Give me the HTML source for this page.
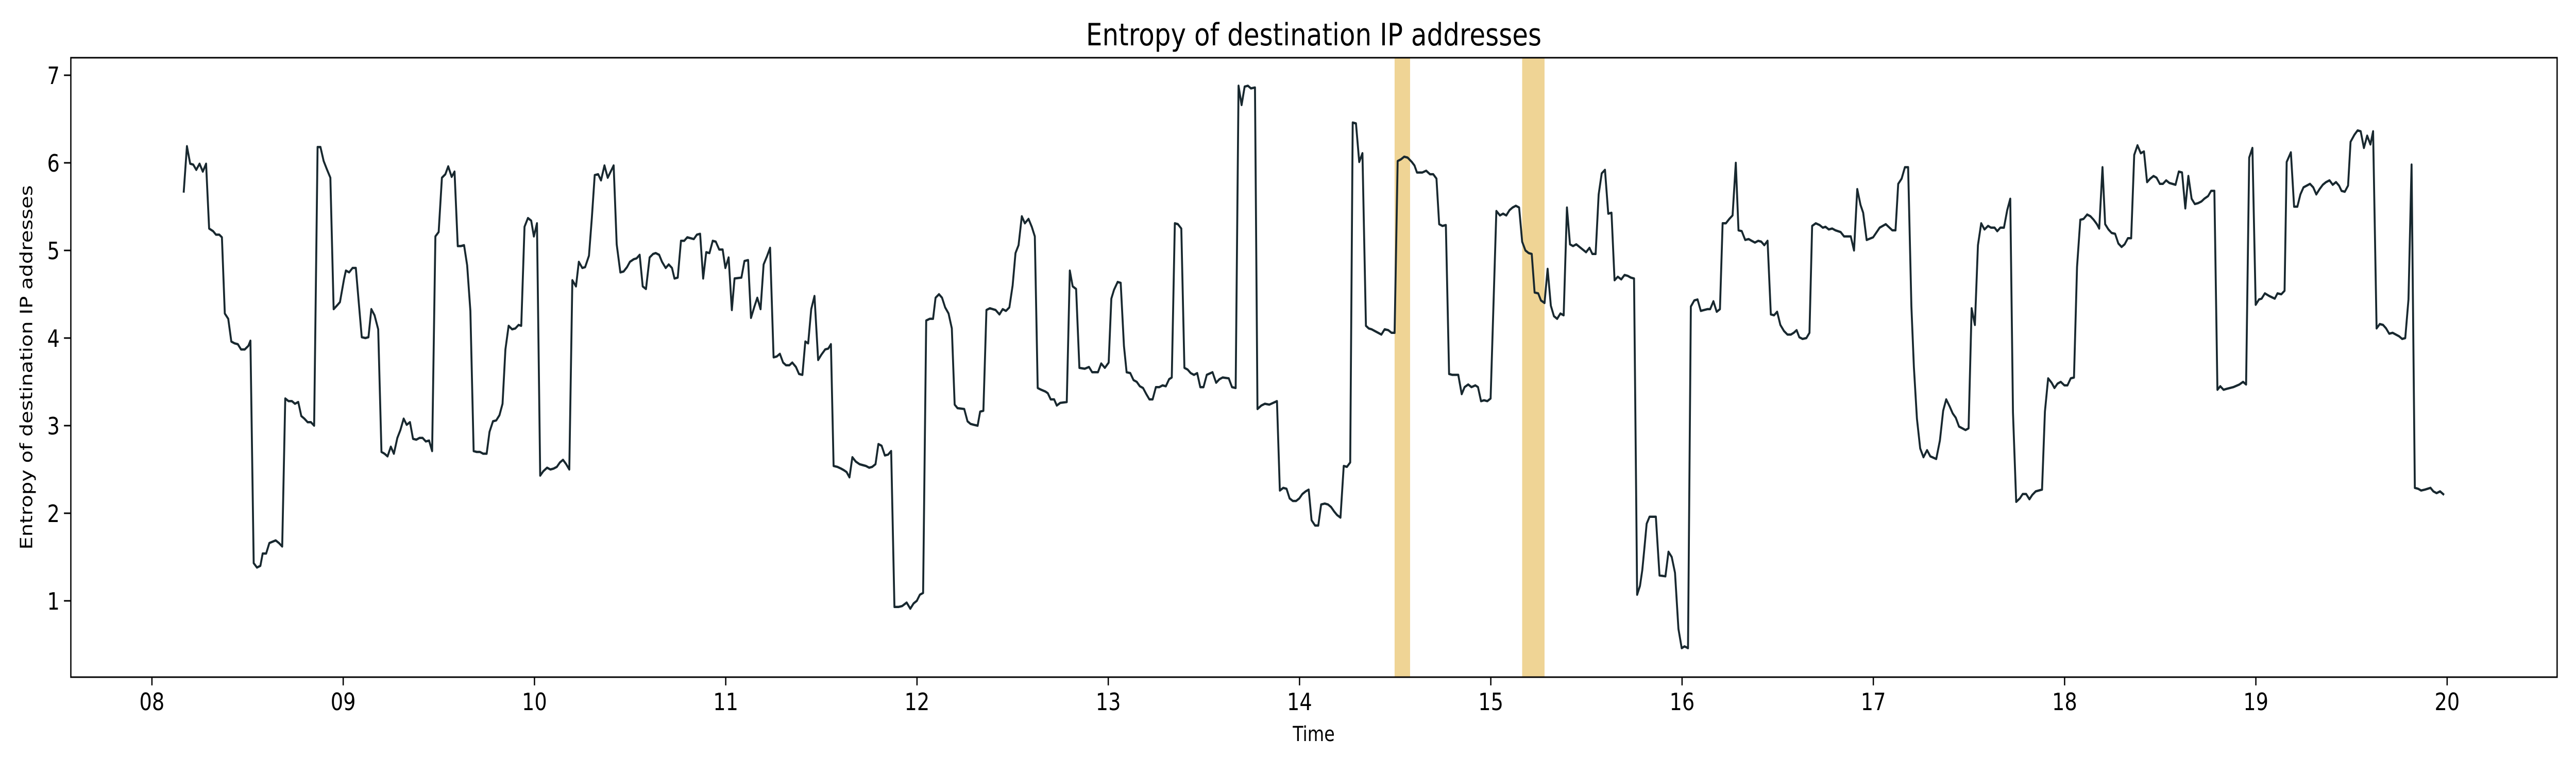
<!DOCTYPE html>
<html><head><meta charset="utf-8">
<style>
html,body{margin:0;padding:0;background:#fff;overflow:hidden;width:100%;height:100%;}
svg{display:block;width:100vw;height:100vh;font-family:"DejaVu Sans","Liberation Sans",sans-serif;}
</style></head>
<body>
<svg id="chart" viewBox="0 0 6000 1500" preserveAspectRatio="none" xmlns="http://www.w3.org/2000/svg">
<rect x="0" y="0" width="6000" height="1500" fill="#ffffff"/>
<g id="bands"></g>
<g id="series"></g>
<g id="axes"></g>
<text x="3060" y="88" font-size="60" text-anchor="middle" fill="#000">Entropy of destination IP addresses</text>
<text x="3060" y="1438" font-size="40" text-anchor="middle" fill="#000">Time</text>
<text transform="translate(75,713) rotate(-90)" font-size="40" text-anchor="middle" fill="#000">Entropy of destination IP addresses</text>
</svg>
<script>
const hours = [8.166,8.183,8.200,8.216,8.232,8.249,8.266,8.283,8.299,8.320,8.335,8.352,8.366,8.381,8.399,8.415,8.432,8.449,8.466,8.485,8.504,8.515,8.532,8.549,8.567,8.579,8.597,8.614,8.647,8.664,8.681,8.697,8.714,8.732,8.748,8.765,8.781,8.797,8.814,8.831,8.848,8.866,8.881,8.898,8.914,8.933,8.950,8.967,8.983,9.004,9.014,9.031,9.049,9.066,9.082,9.097,9.116,9.132,9.147,9.164,9.183,9.200,9.216,9.232,9.249,9.265,9.283,9.299,9.316,9.332,9.349,9.365,9.382,9.399,9.415,9.432,9.449,9.465,9.482,9.499,9.516,9.534,9.549,9.567,9.582,9.599,9.615,9.632,9.648,9.665,9.682,9.698,9.715,9.732,9.750,9.765,9.783,9.800,9.817,9.833,9.848,9.865,9.883,9.900,9.917,9.931,9.948,9.966,9.983,9.997,10.013,10.030,10.046,10.066,10.083,10.100,10.117,10.133,10.149,10.166,10.182,
10.198,10.217,10.232,10.250,10.265,10.285,10.300,10.315,10.333,10.348,10.366,10.383,10.414,10.430,10.449,10.466,10.484,10.499,10.519,10.534,10.550,10.566,10.583,10.602,10.620,10.634,10.652,10.667,10.686,10.702,10.719,10.732,10.749,10.766,10.783,10.799,10.833,10.849,10.866,10.882,10.898,10.915,10.932,10.948,10.966,10.984,10.998,11.015,11.032,11.046,11.082,11.098,11.117,11.132,11.150,11.165,11.182,11.198,11.215,11.232,11.250,11.267,11.283,11.300,11.315,11.333,11.348,11.367,11.383,11.401,11.416,11.431,11.447,11.464,11.483,11.500,11.520,11.536,11.550,11.564,11.583,11.603,11.619,11.632,11.647,11.662,11.680,11.700,11.716,11.733,11.750,11.766,11.783,11.798,11.815,11.832,11.849,11.865,11.882,11.903,11.922,11.946,11.965,11.982,11.999,12.015,12.032,12.048,12.067,12.084,12.097,12.115,12.131,12.147,12.165,12.182,12.197,12.212,12.247,12.264,12.280,12.297,12.317,12.330,12.347,12.363,12.381,
12.411,12.431,12.448,12.465,12.483,12.500,12.515,12.531,12.548,12.564,12.583,12.600,12.616,12.631,12.649,12.671,12.684,12.699,12.717,12.731,12.749,12.783,12.799,12.814,12.832,12.849,12.877,12.899,12.916,12.946,12.963,12.982,13.002,13.016,13.030,13.049,13.065,13.082,13.096,13.115,13.132,13.149,13.165,13.182,13.199,13.215,13.232,13.249,13.267,13.284,13.301,13.318,13.332,13.348,13.364,13.382,13.398,13.415,13.431,13.448,13.465,13.481,13.498,13.515,13.545,13.564,13.581,13.598,13.630,13.647,13.666,13.681,13.697,13.713,13.730,13.746,13.767,13.780,13.800,13.819,13.842,13.862,13.882,13.897,13.915,13.932,13.948,13.965,13.982,13.999,14.015,14.032,14.048,14.063,14.081,14.098,14.113,14.132,14.149,14.165,14.181,14.196,14.214,14.231,14.248,14.265,14.278,14.295,14.312,14.329,14.347,14.362,14.377,14.394,14.411,14.428,14.445,14.464,14.481,14.497,14.513,14.530,14.547,14.565,14.587,14.601,14.614,
14.642,14.662,14.682,14.699,14.716,14.730,14.747,14.765,14.782,14.799,14.830,14.848,14.863,14.882,14.899,14.919,14.933,14.949,14.965,14.982,14.999,15.029,15.048,15.064,15.081,15.098,15.114,15.131,15.148,15.164,15.181,15.198,15.214,15.229,15.248,15.262,15.281,15.297,15.314,15.330,15.347,15.364,15.381,15.398,15.414,15.430,15.447,15.464,15.481,15.498,15.516,15.531,15.548,15.564,15.580,15.597,15.614,15.631,15.647,15.664,15.682,15.699,15.716,15.732,15.749,15.765,15.780,15.792,15.803,15.815,15.830,15.863,15.882,15.913,15.929,15.946,15.963,15.981,15.998,16.013,16.031,16.046,16.064,16.081,16.098,16.115,16.132,16.147,16.164,16.181,16.198,16.212,16.229,16.247,16.264,16.281,16.295,16.312,16.330,16.348,16.364,16.381,16.398,16.414,16.430,16.447,16.464,16.481,16.497,16.514,16.533,16.551,16.569,16.584,16.599,16.613,16.630,16.650,16.666,16.680,16.699,16.719,16.736,16.750,16.767,16.785,16.802,
16.829,16.847,16.882,16.899,16.916,16.933,16.947,16.965,16.999,17.033,17.065,17.099,17.116,17.130,17.148,17.165,17.182,17.199,17.212,17.228,17.245,17.262,17.281,17.298,17.329,17.348,17.365,17.381,17.399,17.415,17.431,17.448,17.465,17.482,17.498,17.514,17.531,17.547,17.564,17.581,17.600,17.615,17.634,17.648,17.664,17.683,17.700,17.716,17.730,17.747,17.766,17.781,17.799,17.816,17.831,17.849,17.882,17.897,17.914,17.932,17.947,17.963,17.980,17.999,18.015,18.032,18.049,18.065,18.082,18.099,18.118,18.135,18.152,18.169,18.181,18.198,18.212,18.229,18.246,18.264,18.281,18.298,18.314,18.331,18.348,18.364,18.381,18.398,18.415,18.431,18.448,18.465,18.481,18.498,18.514,18.531,18.548,18.580,18.597,18.614,18.631,18.647,18.664,18.681,18.698,18.716,18.730,18.750,18.766,18.783,18.799,18.814,18.831,18.847,18.882,18.914,18.933,18.949,18.965,18.982,18.999,19.016,19.030,
19.047,19.070,19.099,19.113,19.133,19.150,19.161,19.183,19.200,19.217,19.233,19.249,19.283,19.300,19.316,19.333,19.350,19.367,19.385,19.402,19.419,19.435,19.448,19.465,19.482,19.495,19.515,19.532,19.548,19.565,19.582,19.599,19.613,19.631,19.648,19.665,19.681,19.697,19.715,19.732,19.749,19.765,19.781,19.798,19.814,19.831,19.848,19.864,19.884,19.913,19.928,19.945,19.963,19.984];
const entropy = [5.66,6.19,5.99,5.98,5.92,5.99,5.90,5.99,5.25,5.22,5.18,5.18,5.15,4.28,4.22,3.96,3.94,3.93,3.87,3.87,3.91,3.97,1.43,1.38,1.40,1.54,1.54,1.66,1.69,1.66,1.62,3.31,3.28,3.28,3.25,3.27,3.11,3.08,3.04,3.04,3.00,6.18,6.18,6.02,5.93,5.83,4.33,4.37,4.41,4.67,4.77,4.75,4.80,4.80,4.39,4.01,4.00,4.01,4.33,4.26,4.10,2.70,2.68,2.65,2.76,2.68,2.86,2.95,3.08,3.01,3.04,2.85,2.84,2.86,2.86,2.82,2.83,2.71,5.16,5.21,5.83,5.87,5.96,5.84,5.90,5.05,5.05,5.06,4.83,4.31,2.71,2.70,2.70,2.68,2.68,2.93,3.05,3.06,3.12,3.25,3.87,4.14,4.10,4.11,4.15,4.14,5.27,5.37,5.34,5.16,5.31,2.43,2.48,2.52,2.50,2.51,2.53,2.58,2.61,2.56,2.50,
4.66,4.59,4.87,4.80,4.81,4.94,5.37,5.86,5.87,5.80,5.97,5.83,5.97,5.07,4.75,4.76,4.81,4.87,4.90,4.91,4.95,4.59,4.56,4.92,4.96,4.97,4.95,4.87,4.80,4.84,4.80,4.68,4.69,5.11,5.11,5.15,5.13,5.18,5.19,4.68,4.98,4.97,5.11,5.10,5.01,5.01,4.80,4.92,4.32,4.68,4.69,4.88,4.89,4.23,4.36,4.46,4.33,4.84,4.93,5.03,3.78,3.79,3.82,3.72,3.69,3.69,3.72,3.67,3.59,3.58,3.96,3.94,4.33,4.48,3.75,3.81,3.87,3.88,3.93,2.54,2.53,2.51,2.49,2.47,2.41,2.64,2.59,2.56,2.55,2.54,2.52,2.53,2.56,2.79,2.77,2.66,2.67,2.71,0.93,0.93,0.94,0.98,0.91,0.97,1.00,1.07,1.09,4.20,4.22,4.22,4.46,4.50,4.46,4.35,4.28,4.11,3.24,3.20,3.19,3.05,3.02,3.01,3.00,3.16,3.17,4.32,4.34,
4.32,4.27,4.33,4.31,4.35,4.60,4.97,5.06,5.39,5.31,5.36,5.27,5.16,3.43,3.41,3.39,3.37,3.30,3.30,3.23,3.26,3.27,4.77,4.59,4.56,3.66,3.65,3.67,3.61,3.61,3.71,3.66,3.72,4.45,4.55,4.64,4.63,3.91,3.61,3.60,3.52,3.50,3.45,3.43,3.36,3.30,3.30,3.44,3.44,3.46,3.45,3.53,3.55,5.31,5.30,5.25,3.66,3.64,3.60,3.58,3.60,3.44,3.44,3.58,3.61,3.49,3.53,3.55,3.54,3.44,3.43,6.88,6.66,6.87,6.88,6.85,6.86,3.19,3.23,3.25,3.24,3.26,3.28,2.26,2.29,2.28,2.17,2.14,2.14,2.17,2.22,2.25,2.27,1.92,1.86,1.86,2.10,2.11,2.10,2.07,2.02,1.98,1.95,2.54,2.53,2.58,6.46,6.45,6.01,6.11,4.14,4.11,4.10,4.08,4.06,4.04,4.10,4.09,4.06,4.06,6.02,6.04,6.07,6.06,6.01,5.97,5.89,
5.89,5.91,5.87,5.87,5.82,5.30,5.28,5.29,3.59,3.58,3.58,3.36,3.44,3.47,3.44,3.46,3.44,3.28,3.29,3.28,3.31,5.45,5.40,5.42,5.40,5.46,5.49,5.51,5.49,5.10,5.00,4.97,4.96,4.52,4.51,4.43,4.40,4.79,4.37,4.25,4.22,4.28,4.26,5.49,5.07,5.05,5.07,5.04,5.01,4.98,5.03,4.96,4.96,5.64,5.88,5.92,5.42,5.43,4.66,4.70,4.67,4.72,4.71,4.69,4.68,1.07,1.17,1.35,1.60,1.88,1.96,1.96,1.29,1.28,1.56,1.50,1.32,0.68,0.46,0.48,0.46,4.36,4.43,4.44,4.31,4.32,4.33,4.33,4.42,4.30,4.33,5.31,5.31,5.36,5.40,6.00,5.23,5.22,5.12,5.13,5.11,5.09,5.11,5.10,5.06,5.11,4.27,4.26,4.30,4.15,4.08,4.04,4.04,4.06,4.09,4.01,3.99,4.00,4.06,5.28,5.31,5.29,5.26,5.27,5.24,5.25,5.23,
5.21,5.16,5.16,5.00,5.70,5.52,5.43,5.12,5.15,5.26,5.30,5.23,5.23,5.76,5.82,5.95,5.95,4.36,3.67,3.08,2.74,2.64,2.72,2.65,2.62,2.83,3.17,3.30,3.22,3.14,3.09,2.99,2.97,2.95,2.97,4.34,4.15,5.06,5.31,5.24,5.28,5.26,5.26,5.22,5.26,5.26,5.46,5.59,3.15,2.13,2.17,2.22,2.22,2.16,2.21,2.25,2.27,3.16,3.54,3.49,3.43,3.48,3.50,3.46,3.46,3.54,3.55,4.81,5.35,5.36,5.41,5.39,5.35,5.30,5.25,5.95,5.30,5.24,5.20,5.19,5.08,5.04,5.07,5.14,5.14,6.09,6.20,6.11,6.13,5.78,5.82,5.85,5.83,5.76,5.76,5.80,5.77,5.75,5.90,5.89,5.48,5.85,5.59,5.53,5.54,5.56,5.59,5.62,5.68,5.68,3.41,3.45,3.41,3.42,3.44,3.47,3.50,3.47,6.06,6.17,4.38,4.44,4.45,
4.51,4.48,4.45,4.51,4.50,4.54,6.01,6.12,5.50,5.50,5.64,5.72,5.76,5.72,5.64,5.70,5.75,5.78,5.80,5.75,5.78,5.74,5.68,5.67,5.74,6.24,6.32,6.37,6.36,6.17,6.31,6.21,6.36,4.11,4.16,4.15,4.11,4.05,4.06,4.04,4.02,3.99,4.00,4.44,5.98,2.29,2.28,2.26,2.27,2.29,2.25,2.23,2.25,2.21];
const bandStarts = [14.497, 15.164];
const bandEnds = [14.578, 15.281];
const xTickValues = [8,9,10,11,12,13,14,15,16,17,18,19,20];
const xTickLabels = ["08","09","10","11","12","13","14","15","16","17","18","19","20"];
const yTickValues = [1,2,3,4,5,6,7];

const NS = "http://www.w3.org/2000/svg";
const L=165,R=5956,T=112,B=1314, X0=7.576,X1=20.575,Y0=0.129,Y1=7.2;
const xs = h => L + (h-X0)/(X1-X0)*(R-L);
const ys = v => B - (v-Y0)/(Y1-Y0)*(B-T);
function mk(tag, attrs, parent){const e=document.createElementNS(NS,tag);for(const k in attrs)e.setAttribute(k,attrs[k]);parent.appendChild(e);return e;}

const bands=document.getElementById('bands');
for(let i=0;i<bandStarts.length;i++){
  const r=mk('rect',{x:xs(bandStarts[i]),y:T,width:xs(bandEnds[i])-xs(bandStarts[i]),height:B-T,fill:'#efd495'},bands);
  
  
}
const series=document.getElementById('series');
let d='';
for(let i=0;i<hours.length;i++){d+=(i?'L':'M')+xs(hours[i]).toFixed(1)+' '+ys(entropy[i]).toFixed(1);}
const line=mk('path',{d:d,fill:'none',stroke:'#18282f','stroke-width':4.5,'stroke-linejoin':'round'},series);



const axes=document.getElementById('axes');
const frame=mk('rect',{x:L,y:T,width:R-L,height:B-T,fill:'none',stroke:'#000','stroke-width':3},axes);


for(let i=0;i<xTickValues.length;i++){
  const x=xs(xTickValues[i]);
  const t=mk('line',{x1:x,y1:B,x2:x,y2:B+16,stroke:'#000','stroke-width':3},axes);
  
  
  const lb=mk('text',{x:x,y:B+64,'font-size':46,'text-anchor':'middle',fill:'#000'},axes);
  lb.textContent=xTickLabels[i];
  
  
}
for(let i=0;i<yTickValues.length;i++){
  const y=ys(yTickValues[i]);
  const t=mk('line',{x1:L-16,y1:y,x2:L,y2:y,stroke:'#000','stroke-width':3},axes);
  
  
  const lb=mk('text',{x:L-26,y:y+17,'font-size':46,'text-anchor':'end',fill:'#000'},axes);
  lb.textContent=String(yTickValues[i]);
  
  
}
</script>
</body></html>
